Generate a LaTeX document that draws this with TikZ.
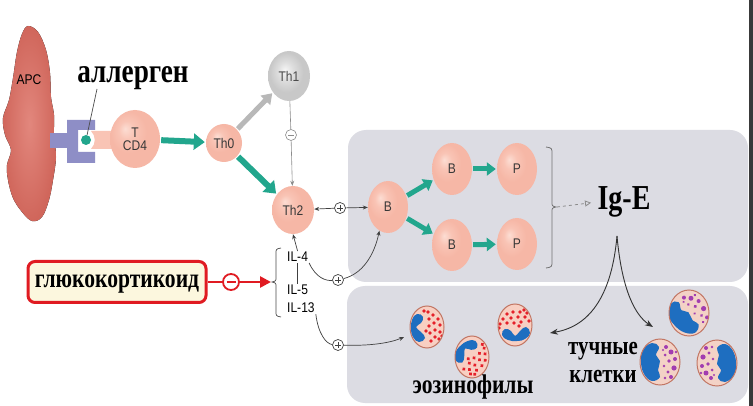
\documentclass[tikz,border=0pt]{standalone}
\usepackage{fontspec}
\setmainfont{Liberation Serif}
\setsansfont{Liberation Sans}
\usetikzlibrary{arrows.meta,shapes.geometric}

\definecolor{tealc}{HTML}{22A68D}
\definecolor{boxgray}{HTML}{DCDCE3}
\definecolor{cellhi}{HTML}{FCDDD3}
\definecolor{cellmid}{HTML}{F9C4B5}
\definecolor{cellout}{HTML}{F6B7A6}
\definecolor{grayhi}{HTML}{F6F6F6}
\definecolor{graymid}{HTML}{DEDEDE}
\definecolor{grayout}{HTML}{C8C8C8}
\definecolor{apcin}{HTML}{E2877D}
\definecolor{apcout}{HTML}{D0665B}
\definecolor{recep}{HTML}{8E8EC6}
\definecolor{gcred}{HTML}{E01B22}
\definecolor{gcfill}{HTML}{FCF7DE}
\definecolor{nucblue}{HTML}{1E6EC0}
\definecolor{eosdot}{HTML}{E5202A}
\definecolor{eosfill}{HTML}{F8CFC2}
\definecolor{celledge}{HTML}{C27664}
\definecolor{mastdot}{HTML}{A23DB0}
\definecolor{mastfill}{HTML}{F3D2C6}
\definecolor{darkbar}{HTML}{3A3A3A}

\pgfdeclareradialshading{pinkball}{\pgfpoint{-10bp}{9bp}}{color(0bp)=(cellhi); color(8bp)=(cellmid); color(18bp)=(cellout); color(50bp)=(cellout)}
\pgfdeclareradialshading{grayball}{\pgfpoint{-5bp}{6bp}}{color(0bp)=(grayhi); color(9bp)=(graymid); color(20bp)=(grayout); color(50bp)=(grayout)}

\newcommand{\lab}[1]{\scalebox{0.86}[1]{\fontsize{14}{15}\selectfont\sffamily #1}}
\newcommand{\rus}[2]{\scalebox{0.8}[1]{\fontsize{#1}{#1}\selectfont\bfseries #2}}

\tikzset{
  cell/.style={ellipse, shading=pinkball, inner sep=0, minimum width=40, minimum height=52, text=black!78},
  grcell/.style={ellipse, shading=grayball, inner sep=0, text=black!70},
  tealarr/.style={draw=tealc, line width=6, -{Triangle[length=11pt,width=16pt]}, shorten >=1pt, shorten <=1pt},
  tealsm/.style={draw=tealc, line width=5, -{Triangle[length=9pt,width=13pt]}, shorten >=1pt, shorten <=1pt},
  grayarr/.style={draw=black!28, line width=5, -{Triangle[length=10pt,width=13pt]}, shorten >=1pt, shorten <=1pt},
  thinarr/.style={draw=black!75, line width=0.7, -{Stealth[length=5pt,width=4pt]}},
  thinline/.style={draw=black!75, line width=0.7},
  plusc/.style={circle, draw=black!75, fill=white, line width=0.7, minimum size=11, inner sep=0,
    path picture={\draw[black!75, line width=0.7]
      ([xshift=-3pt]path picture bounding box.center) -- ([xshift=3pt]path picture bounding box.center)
      ([yshift=-3pt]path picture bounding box.center) -- ([yshift=3pt]path picture bounding box.center);}},
  minusg/.style={circle, draw=black!45, fill=white, line width=0.6, minimum size=11, inner sep=0,
    path picture={\draw[black!45, line width=0.7]
      ([xshift=-3pt]path picture bounding box.center) -- ([xshift=3pt]path picture bounding box.center);}},
  minusr/.style={circle, draw=gcred, fill=white, line width=1.8, minimum size=16, inner sep=0,
    path picture={\draw[gcred, line width=1.8]
      ([xshift=-4.5pt]path picture bounding box.center) -- ([xshift=4.5pt]path picture bounding box.center);}},
  redline/.style={draw=gcred, line width=2.6},
  eos/.pic={
    \begin{scope}
      \clip (0,0) ellipse [x radius=17, y radius=21];
      \fill[eosfill] (0,0) ellipse [x radius=17, y radius=21];
      \begin{scope}[rotate=#1]
        \fill[nucblue] plot[smooth cycle, tension=0.8] coordinates {(-15,-7) (-10,-13) (-4,-10) (-6,-4) (-11,0) (-6,5) (-2,11) (-8,15) (-14,10) (-16,2)};
        \foreach \a/\b in {1/-15,6/-12,11/-8,2/-8,7/-4,13/-2,2/-1,8/3,13/5,3/6,8/10,12/12,4/14,-1/4,-3/-16,15/9}
          \fill[eosdot] (\a,\b) circle (1.9);
      \end{scope}
    \end{scope}
    \draw[celledge, line width=1] (0,0) ellipse [x radius=17, y radius=21];
  },
  mast/.pic={
    \begin{scope}
      \clip (0,0) ellipse [x radius=20, y radius=23];
      \fill[mastfill] (0,0) ellipse [x radius=20, y radius=23];
      \begin{scope}[rotate=#1]
        \fill[nucblue] plot[smooth cycle, tension=0.7] coordinates {(-17,-12) (-8,-19) (-1,-15) (-4,-7) (0,-1) (-2,8) (0,15) (-8,19) (-16,12) (-19,0)};
        \foreach \a/\b/\r in {6/-15/2,11/-10/2.5,5/-7/1.5,15/-3/2,9/-1/1.8,4/4/1.3,14/6/2.6,8/10/1.6,11/15/2,5/16/1.3,16/-10/1.4,3/-12/1.2}
          \fill[mastdot] (\a,\b) circle (\r);
      \end{scope}
    \end{scope}
    \draw[celledge, line width=1] (0,0) ellipse [x radius=20, y radius=23];
  }
}

\begin{document}
\begin{tikzpicture}[x=1pt,y=-1pt]
\useasboundingbox (0,0) rectangle (753,406);
\fill[white] (0,0) rectangle (753,406);

% gray panels
\fill[boxgray, rounded corners=18] (348,130) rectangle (748,282);
\fill[boxgray, rounded corners=18] (347,286) rectangle (748,403);
\fill[darkbar] (749,0) rectangle (753,406);

% APC
\fill[shading=radial, inner color=apcin, outer color=apcout] plot[smooth cycle, tension=0.6] coordinates
  {(28,26) (38,32) (46,50) (50,73) (51,97) (54,115) (54,135) (56,157) (53,180) (49,200) (42,217) (32,221) (22,212) (13,198) (8,180) (7,165) (11,150) (5,135) (3,118) (9,100) (13,78) (17,52) (22,34)};
\node (apc) at (29,80) {\lab{APC}};

% receptor
\fill[recep] (50,133) rectangle (68,148);
\fill[recep] (67,120) -- (95,120) -- (95,130) -- (78,130) -- (78,152) -- (95,152) -- (95,163) -- (67,163) -- cycle;
\fill[cellmid] (91,131) -- (118,131) -- (118,149) -- (91,149) .. controls (96,144) and (96,136) .. cycle;
\node[circle, fill=tealc, minimum size=10, inner sep=0] (dot) at (86,140) {};

% T cells
\node[cell, minimum width=50, minimum height=58, align=center] (tcd4) at (135,139) {\lab{T}\\[1pt]\lab{CD4}};
\node[cell, minimum width=36, minimum height=38] (th0) at (224,143) {\lab{Th0}};
\node[grcell, minimum width=42, minimum height=50] (th1) at (289,76) {\lab{Th1}};
\node[cell, minimum width=42, minimum height=48] (th2) at (293,210) {\lab{Th2}};

\node[anchor=base] (alg) at (133,83) {\rus{34}{аллерген}};
\coordinate (algp) at (97,89);
\draw[thinline, black!70] (algp) -- (dot);

\draw[tealarr] (tcd4) -- (th0);
\draw[grayarr] (th0) -- (th1);
\draw[tealarr] (th0) -- (th2);

\node[minusg] (m1) at (291,135) {};
\draw[draw=black!45, line width=0.6] (th1) -- (m1);
\draw[draw=black!45, line width=0.6, -{Stealth[length=5pt,width=4pt]}] (m1) -- (th2);

% B cells
\node[cell] (bl) at (388,207) {\lab{B}};
\node[cell] (bt) at (452,169) {\lab{B}};
\node[cell] (pt) at (517,169) {\lab{P}};
\node[cell] (bb) at (452,245) {\lab{B}};
\node[cell] (pb) at (517,244) {\lab{P}};
\draw[tealsm] (bl) -- (bt);
\draw[tealsm] (bl) -- (bb);
\draw[tealsm] (bt) -- (pt);
\draw[tealsm] (bb) -- (pb);

\node[plusc] (p1) at (340,208) {};
\draw[thinarr] (p1) -- (th2);
\draw[thinarr] (p1) -- (bl);

% bracket and Ig-E
\draw[black!55, line width=0.8] (546,147) .. controls (552,148) .. (552,154) -- (552,202) .. controls (552,206) .. (556,207) .. controls (552,208) .. (552,212) -- (552,261) .. controls (552,267) .. (546,268);
\coordinate (btip) at (557,207);
\node[anchor=base] (ige) at (624,210) {\rus{35}{Ig-E}};
\draw[dashed, black!45, line width=0.8, -{Triangle[open, length=6pt, width=6pt]}, shorten >=3pt] (btip) -- (ige.west);

% interleukins
\node[anchor=west, inner sep=1] (il4) at (286,257) {\lab{IL-4}};
\node[anchor=west, inner sep=1] (il5) at (286,290) {\lab{IL-5}};
\node[anchor=west, inner sep=1] (il13) at (286,308) {\lab{IL-13}};
\draw[thinline] (il5.north) -- (il4.south);
\draw[thinarr] (il4.north) -- (th2.south);
\draw[black!70, line width=0.7] (281,248) .. controls (276,249) .. (276,254) -- (276,277) .. controls (276,281) .. (272,282) .. controls (276,283) .. (276,287) -- (276,311) .. controls (276,316) .. (281,317);

\node[plusc] (p2) at (338,280) {};
\node[plusc] (p3) at (338,345) {};
\draw[thinline] (il4.south east) .. controls (316,278) and (326,281) .. (p2);
\draw[thinarr] (p2) .. controls (362,274) and (374,256) .. (bl.250);
\draw[thinline] (il13.south east) .. controls (318,333) and (326,344) .. (p3);
\coordinate (e1a) at (404,337);
\draw[thinarr] (p3) .. controls (370,346) and (390,343) .. (e1a);

% glucocorticoid
\node[draw=gcred, line width=3, fill=gcfill, rounded corners=7, minimum width=178, minimum height=41, inner sep=0] (gc) at (117,282) {};
\node[anchor=base] (gct) at (117,288) {\rus{27}{глюкокортикоид}};
\node[minusr] (m2) at (231,282) {};
\coordinate (ltip) at (271,282);
\draw[redline] (gc) -- (m2);
\draw[redline, -{Triangle[length=11pt,width=11pt]}] (m2) -- (ltip);

% effector cells
\pic (e1) at (427,327) {eos=0};
\pic (e2) at (472,357) {eos=-50};
\pic (e3) at (515,325) {eos=90};
\pic (mc1) at (689,313) {mast=40};
\pic (mc2) at (660,362) {mast=0};
\pic (mc3) at (717,363) {mast=180};

\node[anchor=base] (eost) at (473,393) {\rus{27}{эозинофилы}};
\node[anchor=base] (mt1) at (603,355) {\rus{26}{тучные}};
\node[anchor=base] (mt2) at (603,382) {\rus{26}{клетки}};

\coordinate (igs) at (617,236);
\coordinate (eosarr) at (550,333);
\coordinate (mastarr) at (653,327);
\draw[black!80, line width=0.9, -{Stealth[length=8pt,width=6pt]}] (igs) .. controls (612,292) and (592,326) .. (eosarr);
\draw[black!80, line width=0.9, -{Stealth[length=8pt,width=6pt]}] (igs) .. controls (622,292) and (636,316) .. (mastarr);
\end{tikzpicture}
\end{document}
